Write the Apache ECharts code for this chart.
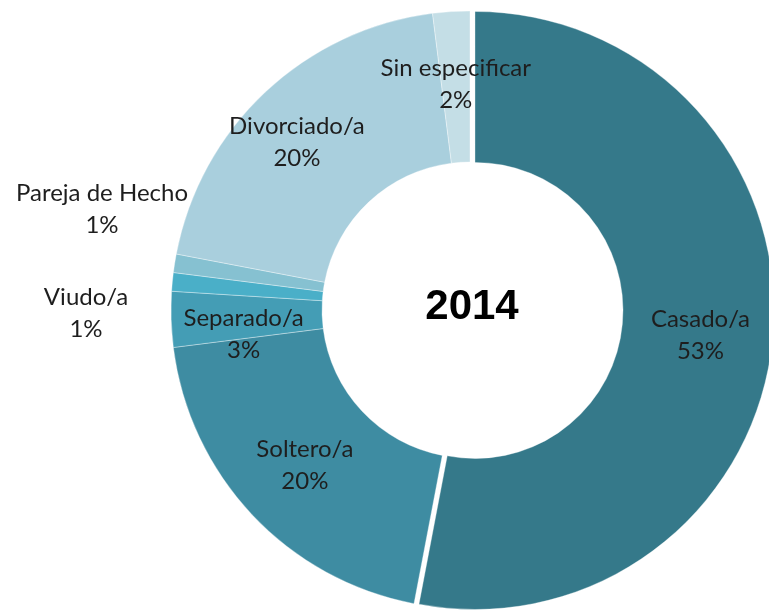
<!DOCTYPE html>
<html><head><meta charset="utf-8">
<script src="https://cdn.jsdelivr.net/npm/echarts@6/dist/echarts.min.js"></script>
<style>html,body{margin:0;padding:0;background:#fff}#c{width:769px;height:611px}</style>
</head><body><div id="c"></div>
<script>
const categories = ['Casado/a','Soltero/a','Separado/a','Viudo/a','Pareja de Hecho','Divorciado/a','Sin especificar'];
const values = [53, 20, 3, 1, 1, 20, 2];
const colors = ['#35798A','#3E8CA2','#449DB5','#4AAFC8','#86C1D1','#A9CFDD','#C4DEE6'];
const centerTitle = '2014';
const outsideLabels = ['Viudo/a','Pareja de Hecho'];

const chart = echarts.init(document.getElementById('c'));
const data = categories.map((n,i)=>({
  name:n, value:values[i],
  selected: i===0,
  itemStyle:{color:colors[i]},
  label: outsideLabels.includes(n) ? {position:'outside'} : {position:'inside'},
  labelLine:{show:false}
}));
chart.setOption({
  animation:false,
  title:{text:centerTitle,left:467,top:302,textAlign:'center',textVerticalAlign:'middle',
    textStyle:{fontFamily:'Liberation Sans, Arial',fontWeight:'bold',fontSize:42,color:'#000'}},
  series:[{
    type:'pie',
    center:[470,310],
    radius:[148,299],
    startAngle:90,
    clockwise:true,
    selectedMode:'single',
    selectedOffset:5,
    emphasis:{disabled:true},
    itemStyle:{borderColor:'rgba(255,255,255,0.35)',borderWidth:1},
    label:{show:true,formatter:p=>p.name+'\n'+p.value+'%',fontFamily:'Lato, Open Sans, sans-serif',
      fontSize:24,lineHeight:32,color:'#1e1e1e',align:'center',overflow:'none',width:300},
    labelLayout:function(p){
      if(p.dataIndex===3) return {x:86,y:313,align:'center',verticalAlign:'middle'};
      if(p.dataIndex===4) return {x:102,y:209,align:'center',verticalAlign:'middle'};
      if(p.dataIndex===2) return {dy:17};
      if(p.dataIndex===5) return {dx:-18,dy:-3};
      if(p.dataIndex===0) return {dy:3};
      return {};
    },
    data:data
  }]
});
</script></body></html>
